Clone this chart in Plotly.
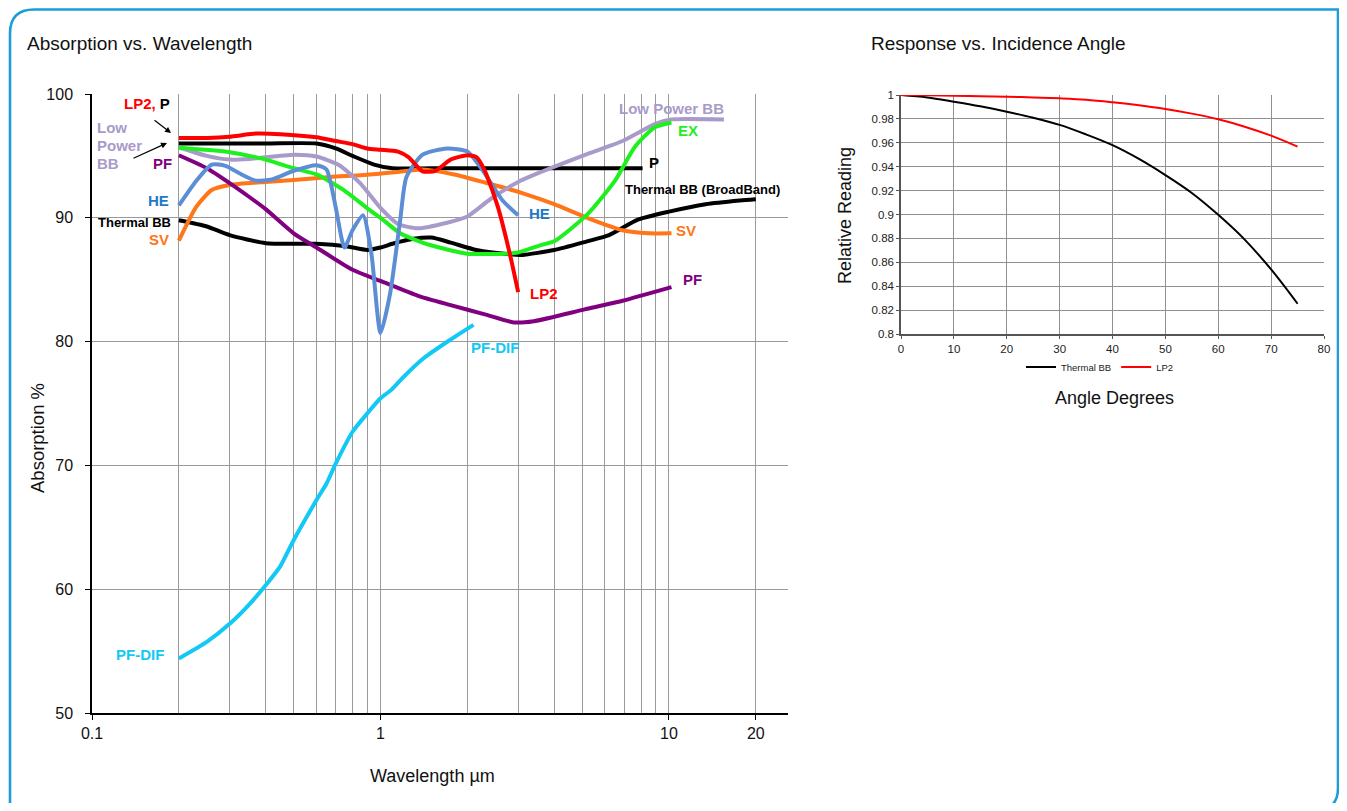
import plotly.graph_objects as go

# Page is 1347x811; the body keeps an 8px margin, so the figure is sized to fit inside it.
PAGE_OFF = 8
W, H = 1331, 795

# ---------------- Left chart: Absorption vs. Wavelength ----------------
lp2_x = [0.2, 0.25, 0.3, 0.37, 0.45, 0.6, 0.7, 0.8, 0.9, 1.0, 1.15, 1.25, 1.4, 1.55, 1.75, 2.0, 2.15, 2.3, 2.55, 2.8, 3.0]
lp2_y = [96.45, 96.45, 96.55, 96.8, 96.75, 96.5, 96.2, 95.95, 95.6, 95.5, 95.35, 94.9, 93.75, 93.8, 94.7, 95.05, 94.9, 93.8, 90.9, 87.2, 84.0]

p_x = [0.2, 0.4, 0.6, 0.7, 0.8, 0.95, 1.1, 1.5, 3.0, 8.1]
p_y = [96.0, 96.0, 96.0, 95.6, 95.0, 94.3, 94.0, 94.0, 94.0, 94.0]

lpbb_x = [0.2, 0.25, 0.3, 0.35, 0.5, 0.6, 0.72, 0.85, 1.0, 1.15, 1.35, 1.7, 2.0, 2.4, 3.0, 3.6, 5.2, 6.9, 9.0, 10.2, 15.5]
lpbb_y = [95.7, 95.0, 94.7, 94.75, 95.1, 94.95, 94.25, 92.8, 90.8, 89.5, 89.15, 89.6, 90.1, 91.5, 92.9, 93.7, 95.15, 96.2, 97.6, 97.95, 97.95]

ex_x = [0.2, 0.3, 0.4, 0.5, 0.6, 0.75, 0.92, 1.0, 1.17, 1.4, 1.6, 2.0, 2.7, 3.0, 3.6, 4.0, 5.2, 6.5, 7.6, 8.9, 10.2]
ex_y = [95.65, 95.3, 94.7, 94.0, 93.5, 92.2, 90.6, 90.0, 88.75, 88.0, 87.6, 87.1, 87.1, 87.2, 87.8, 88.1, 90.25, 93.0, 95.7, 97.3, 97.7]

he_x = [0.2, 0.23, 0.26, 0.29, 0.33, 0.37, 0.42, 0.5, 0.6, 0.65, 0.7, 0.75, 0.8, 0.87, 0.93, 1.0, 1.08, 1.17, 1.23, 1.4, 1.7, 2.0, 2.25, 2.65, 3.0]
he_y = [91.0, 93.0, 94.3, 94.2, 93.5, 93.0, 93.1, 93.8, 94.25, 93.9, 90.8, 87.6, 89.0, 90.2, 87.1, 80.7, 83.9, 89.8, 93.3, 95.1, 95.6, 95.35, 93.9, 91.4, 90.2]

sv_x = [0.2, 0.23, 0.26, 0.3, 0.4, 0.5, 0.67, 0.87, 1.14, 1.4, 1.8, 2.3, 3.1, 4.0, 5.2, 6.9, 8.5, 10.2]
sv_y = [88.15, 90.9, 92.25, 92.65, 92.9, 93.05, 93.3, 93.45, 93.7, 93.9, 93.5, 92.85, 92.0, 91.1, 90.0, 89.0, 88.75, 88.75]

tbb_x = [0.2, 0.25, 0.3, 0.4, 0.6, 0.76, 0.9, 1.0, 1.1, 1.3, 1.5, 1.75, 2.15, 2.8, 3.1, 4.0, 5.2, 6.2, 7.8, 10.0, 13.4, 17.6, 20.0]
tbb_y = [89.8, 89.3, 88.6, 87.95, 87.9, 87.7, 87.4, 87.6, 87.9, 88.3, 88.4, 88.0, 87.4, 87.05, 87.0, 87.4, 88.1, 88.6, 89.85, 90.5, 91.1, 91.4, 91.5]

pf_x = [0.2, 0.25, 0.3, 0.35, 0.4, 0.5, 0.6, 0.8, 1.0, 1.35, 1.75, 2.3, 2.9, 3.4, 5.1, 6.9, 10.2]
pf_y = [95.05, 94.0, 92.8, 91.7, 90.7, 88.75, 87.6, 85.8, 84.9, 83.7, 82.95, 82.2, 81.55, 81.65, 82.6, 83.3, 84.4]

pfdif_x = [0.2, 0.25, 0.3, 0.353, 0.4, 0.448, 0.5, 0.6, 0.65, 0.7, 0.8, 0.9, 1.0, 1.09, 1.19, 1.41, 1.74, 2.1]
pfdif_y = [54.4, 55.74, 57.2, 58.84, 60.32, 61.8, 63.96, 67.2, 68.54, 70.16, 72.72, 74.2, 75.42, 76.1, 77.04, 78.65, 80.13, 81.35]

wl_tickvals = [0.1, 1, 10, 20]
wl_ticktext = ["0.1", "1", "10", "20"]
wl_minor = [0.2, 0.3, 0.4, 0.5, 0.6, 0.7, 0.8, 0.9, 2, 3, 4, 5, 6, 7, 8, 9]
abs_ticks = [50, 60, 70, 80, 90, 100]

# ---------------- Right chart: Response vs. Incidence Angle ----------------
angle = [0, 5, 10, 15, 20, 25, 30, 35, 40, 45, 50, 55, 60, 65, 70, 75]
thermal_rel = [1.0, 0.998, 0.9944, 0.9905, 0.986, 0.981, 0.975, 0.967, 0.958, 0.9465, 0.933, 0.918, 0.8997, 0.879, 0.854, 0.8253]
lp2_rel = [1.0, 0.9998, 0.9994, 0.999, 0.9986, 0.998, 0.9972, 0.996, 0.9939, 0.9914, 0.9883, 0.9844, 0.9797, 0.9735, 0.966, 0.9568]
ang_ticks = [0, 10, 20, 30, 40, 50, 60, 70, 80]
rel_ticks = [0.8, 0.82, 0.84, 0.86, 0.88, 0.9, 0.92, 0.94, 0.96, 0.98, 1.0]
rel_ticktext = ["0.8", "0.82", "0.84", "0.86", "0.88", "0.9", "0.92", "0.94", "0.96", "0.98", "1"]

C_RED = "#FF0000"
C_LAV = "#A99BC9"
C_GREEN = "#1EF01E"
C_HE = "#5B8ED5"
C_HE_TXT = "#1F78C8"
C_SV = "#FF7517"
C_PF = "#800080"
C_CYAN = "#12C8F5"

FONT = "Liberation Sans, Arial, Helvetica, sans-serif"


def fx(p):
    """page pixel x -> paper fraction"""
    return (p - PAGE_OFF) / W


def fy(p):
    """page pixel y -> paper fraction"""
    return 1 - (p - PAGE_OFF) / H


fig = go.Figure()

left_series = [
    ("P", p_x, p_y, "#000000"),
    ("Thermal BB", tbb_x, tbb_y, "#000000"),
    ("SV", sv_x, sv_y, C_SV),
    ("PF", pf_x, pf_y, C_PF),
    ("Low Power BB", lpbb_x, lpbb_y, C_LAV),
    ("EX", ex_x, ex_y, C_GREEN),
    ("HE", he_x, he_y, C_HE),
    ("LP2", lp2_x, lp2_y, C_RED),
    ("PF-DIF", pfdif_x, pfdif_y, C_CYAN),
]
for name, xs, ys, col in left_series:
    fig.add_trace(go.Scatter(
        x=xs, y=ys, mode="lines", name=name, showlegend=False,
        line=dict(color=col, width=4, shape="spline", smoothing=0.6),
        xaxis="x", yaxis="y", hoverinfo="skip"))

fig.add_trace(go.Scatter(x=angle, y=thermal_rel, mode="lines", name="Thermal BB",
                         line=dict(color="#000000", width=2, shape="spline"),
                         xaxis="x2", yaxis="y2"))
fig.add_trace(go.Scatter(x=angle, y=lp2_rel, mode="lines", name="LP2",
                         line=dict(color=C_RED, width=2, shape="spline"),
                         xaxis="x2", yaxis="y2"))

GRID = "#9a9a9a"

fig.update_layout(
    width=W, height=H,
    margin=dict(l=0, r=0, t=0, b=0, autoexpand=False),
    paper_bgcolor="white", plot_bgcolor="white",
    font=dict(family=FONT, color="#111111"),
    xaxis=dict(
        type="log", range=[-1, 1.4125], domain=[fx(92), fx(788)], anchor="y",
        tickmode="array", tickvals=wl_tickvals, ticktext=wl_ticktext,
        ticks="outside", ticklen=5, tickcolor="#000000", tickwidth=1,
        showgrid=True, gridcolor=GRID, gridwidth=1,
        minor=dict(tickvals=wl_minor, showgrid=True, gridcolor=GRID, gridwidth=1, ticks=""),
        showline=True, linecolor="#000000", linewidth=1.5, zeroline=False,
        tickfont=dict(family=FONT, size=16, color="#111111"),
        ticklabelstandoff=0, automargin=False,
    ),
    yaxis=dict(
        range=[50, 100], domain=[fy(713), fy(94)], anchor="x",
        tickmode="array", tickvals=abs_ticks,
        ticks="outside", ticklen=5, tickcolor="#000000",
        showgrid=True, gridcolor=GRID, gridwidth=1,
        showline=True, linecolor="#000000", linewidth=1.5, zeroline=False,
        tickfont=dict(family=FONT, size=16, color="#111111"),
        ticklabelstandoff=9, automargin=False,
    ),
    xaxis2=dict(
        range=[0, 80], domain=[fx(901), fx(1324)], anchor="y2",
        tickmode="array", tickvals=ang_ticks,
        ticks="outside", ticklen=3, tickcolor="#555555",
        showgrid=True, gridcolor="#8f8f8f", gridwidth=1.2,
        showline=True, linecolor="#555555", linewidth=1.5, zeroline=False,
        tickfont=dict(family=FONT, size=11.5, color="#222222"),
        automargin=False,
    ),
    yaxis2=dict(
        range=[0.8, 1.0], domain=[fy(334), fy(95)], anchor="x2",
        tickmode="array", tickvals=rel_ticks, ticktext=rel_ticktext,
        ticks="outside", ticklen=3, tickcolor="#555555",
        showgrid=True, gridcolor="#8f8f8f", gridwidth=1.2,
        showline=True, linecolor="#555555", linewidth=1.5, zeroline=False,
        tickfont=dict(family=FONT, size=11.5, color="#222222"),
        automargin=False,
    ),
    legend=dict(orientation="h", x=fx(1021), y=fy(367), xanchor="left", yanchor="middle",
                font=dict(family=FONT, size=9.5, color="#222222"), bgcolor="rgba(0,0,0,0)",
                itemwidth=30),
    showlegend=True,
)

annotations = []


def txt(text, x, y, size, color, bold=False, xanchor="center", angle=0):
    annotations.append(dict(
        text=("<b>%s</b>" % text) if bold else text,
        x=fx(x), y=fy(y), xref="paper", yref="paper",
        xanchor=xanchor, yanchor="middle", showarrow=False, textangle=angle,
        font=dict(family=FONT, size=size, color=color)))


# Titles and axis titles
txt("Absorption vs. Wavelength", 25, 44, 19, "#111111", xanchor="left")
txt("Response vs. Incidence Angle", 869, 44, 19, "#111111", xanchor="left")
txt("Absorption %", 37, 438, 18.5, "#111111", angle=-90)
txt("Wavelength µm", 432, 776, 18, "#111111")
txt("Relative Reading", 845, 215, 18, "#111111", angle=-90)
txt("Angle Degrees", 1114, 398, 18, "#111111")

# Left-side series labels
annotations.append(dict(
    text="<b><span style='color:%s'>LP2,</span> P</b>" % C_RED,
    x=fx(147), y=fy(104), xref="paper", yref="paper", xanchor="center", yanchor="middle",
    showarrow=False, font=dict(family=FONT, size=15, color="#000000")))
txt("Low", 95, 128, 15, C_LAV, bold=True, xanchor="left")
txt("Power", 95, 146, 15, C_LAV, bold=True, xanchor="left")
txt("BB", 95, 164, 15, C_LAV, bold=True, xanchor="left")
txt("PF", 174, 164, 15, C_PF, bold=True, xanchor="right")
txt("HE", 171, 201, 15, C_HE_TXT, bold=True, xanchor="right")
txt("Thermal BB", 173, 223, 13, "#000000", bold=True, xanchor="right")
txt("SV", 171, 240, 15, C_SV, bold=True, xanchor="right")
txt("PF-DIF", 166, 654, 15, C_CYAN, bold=True, xanchor="right")

# Right-side series labels
txt("Low Power BB", 617, 109, 15, C_LAV, bold=True, xanchor="left")
txt("EX", 676, 131, 15, C_GREEN, bold=True, xanchor="left")
txt("P", 647, 163, 15, "#000000", bold=True, xanchor="left")
txt("Thermal BB (BroadBand)", 623, 190, 13, "#000000", bold=True, xanchor="left")
txt("HE", 527, 214, 15, C_HE_TXT, bold=True, xanchor="left")
txt("SV", 674, 231, 15, C_SV, bold=True, xanchor="left")
txt("PF", 681, 280, 15, C_PF, bold=True, xanchor="left")
txt("LP2", 528, 294, 15, C_RED, bold=True, xanchor="left")
txt("PF-DIF", 469, 347, 15, C_CYAN, bold=True, xanchor="left")

# Pointer arrows
for hx, hy, tx, ty in [(171, 133, 153, 119), (167, 143, 132, 159)]:
    annotations.append(dict(
        text="", x=fx(hx), y=fy(hy), xref="paper", yref="paper",
        ax=tx - hx, ay=ty - hy, axref="pixel", ayref="pixel",
        showarrow=True, arrowhead=2, arrowsize=1, arrowwidth=1.2, arrowcolor="#000000"))

fig.update_layout(annotations=annotations)

# Rounded outer frame (decorative); bottom edge runs off the page
r1, r2 = 24, 22
L, T, R, B = 10, 9.5, 1338, 810
path = (
    f"M {fx(L)} {fy(B + 10)} L {fx(L)} {fy(T + r1)} "
    f"Q {fx(L)} {fy(T)} {fx(L + r1)} {fy(T)} "
    f"L {fx(R + 10)} {fy(T)} "
    f"M {fx(R)} {fy(T)} L {fx(R)} {fy(B - r2)} "
    f"Q {fx(R)} {fy(B)} {fx(R - r2)} {fy(B)}"
)
fig.add_shape(type="path", path=path, xref="paper", yref="paper",
              line=dict(color="#1B9DD6", width=2.6), layer="above")

fig.write_html("out.html", config={"displayModeBar": False})
